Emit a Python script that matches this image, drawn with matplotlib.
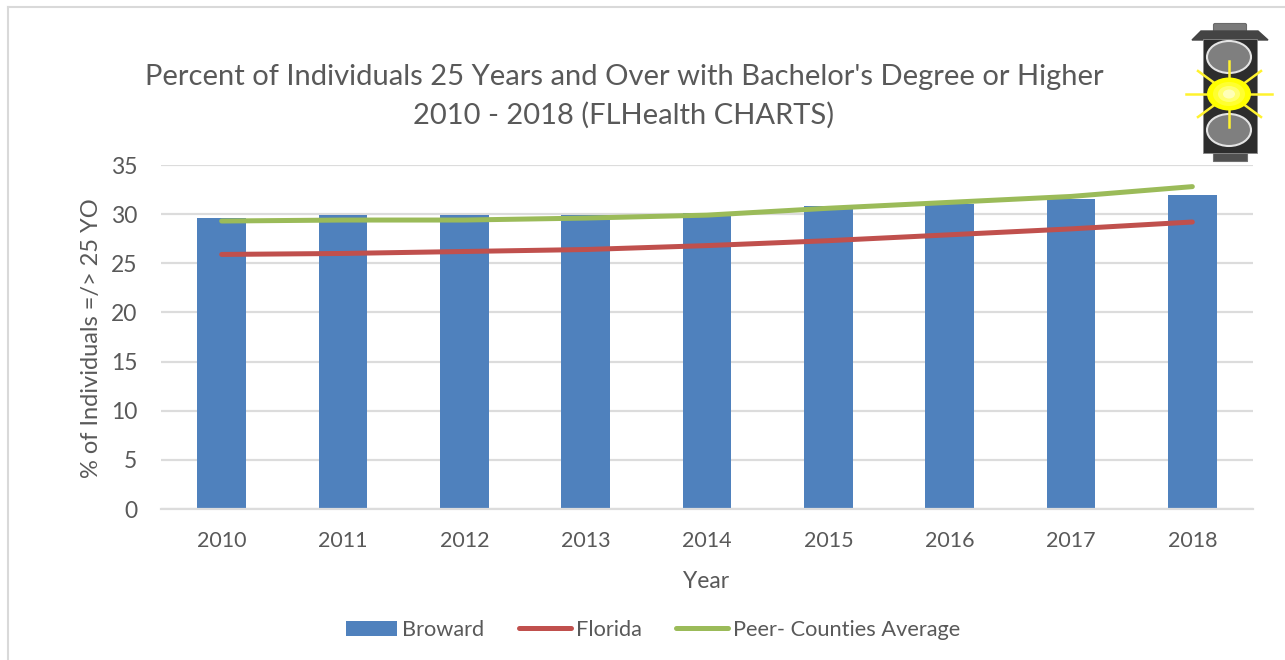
import numpy as np
import matplotlib
matplotlib.use('Agg')
import matplotlib.pyplot as plt
from matplotlib.patches import Ellipse, Polygon, Rectangle, FancyBboxPatch

plt.rcParams['font.family'] = ['Lato', 'DejaVu Sans']

years = ['2010', '2011', '2012', '2013', '2014', '2015', '2016', '2017', '2018']
broward = [29.6, 29.9, 29.9, 29.9, 30.1, 30.8, 31.0, 31.5, 31.9]
florida = [25.9, 26.0, 26.2, 26.4, 26.8, 27.3, 27.9, 28.5, 29.2]
peer = [29.3, 29.4, 29.4, 29.6, 29.9, 30.6, 31.2, 31.8, 32.8]
y_ticks = [0, 5, 10, 15, 20, 25, 30, 35]

text_col = '#595959'
blue = '#4F81BD'
red = '#C0504D'
green = '#9BBB59'

fig = plt.figure(figsize=(12.85, 6.6), dpi=100)
ax = fig.add_axes([161 / 1285, 151 / 660, 1092 / 1285, 344 / 660])

x = np.arange(len(years))
bars = ax.bar(x, broward, width=0.4, color=blue, label='Broward', zorder=2)
line_fl, = ax.plot(x, florida, color=red, lw=3.6, solid_capstyle='round', label='Florida', zorder=3)
line_peer, = ax.plot(x, peer, color=green, lw=3.6, solid_capstyle='round', label='Peer- Counties Average', zorder=4)

ax.set_xlim(-0.5, 8.5)
ax.set_ylim(0, 35)
ax.set_xticks(x)
ax.set_xticklabels(years)
ax.set_yticks(y_ticks)
ax.tick_params(axis='both', length=0, labelcolor=text_col)
ax.tick_params(axis='x', labelsize=15.5, pad=16)
ax.tick_params(axis='y', labelsize=16.5, pad=17)
ax.grid(axis='y', color='#DCDCDC', lw=1.6, zorder=0)
ax.set_axisbelow(True)
for side in ['top', 'left', 'right']:
    ax.spines[side].set_visible(False)
ax.spines['bottom'].set_color('#DCDCDC')
ax.spines['bottom'].set_linewidth(1.6)

fig.text(706 / 1285, 1 - 582 / 660, 'Year', color=text_col, fontsize=16.5, ha='center', va='center')
fig.text(92 / 1285, 1 - 338 / 660, '% of Individuals =/> 25 YO', color=text_col, fontsize=17,
         rotation=90, ha='center', va='center')
fig.text(624 / 1285, 1 - 77 / 660, "Percent of Individuals 25 Years and Over with Bachelor's Degree or Higher",
         color=text_col, fontsize=21, ha='center', va='center')
fig.text(624 / 1285, 1 - 115 / 660, '2010 - 2018 (FLHealth CHARTS)',
         color=text_col, fontsize=21, ha='center', va='center')

ax.legend([bars, line_fl, line_peer], ['Broward', 'Florida', 'Peer- Counties Average'],
          loc='center', bbox_to_anchor=(653 / 1285, 1 - 630 / 660), bbox_transform=fig.transFigure,
          ncol=3, frameon=False, fontsize=15.7, labelcolor=text_col, handlelength=2.35,
          handletextpad=0.23, columnspacing=1.6)

# overlay in pixel coordinates for the frame and the traffic light
ov = fig.add_axes([0, 0, 1, 1], zorder=10)
ov.set_xlim(0, 1285)
ov.set_ylim(660, 0)
ov.axis('off')
ov.plot([8, 8], [7, 660], color='#D9D9D9', lw=1.5)
ov.plot([8, 1285], [7, 7], color='#D9D9D9', lw=1.5)

ov.add_patch(FancyBboxPatch((1215, 25), 30, 7, boxstyle='round,pad=1.5', fc='#7a7a7a', ec='#6a6a6a', lw=0.8))
ov.add_patch(Polygon([[1192, 40], [1201, 31], [1258, 31], [1268, 40]], fc='#444444', ec='#444444'))
ov.add_patch(Rectangle((1213, 153), 34, 8, fc='#505050', ec='#707070', lw=0.8))
ov.add_patch(Rectangle((1203, 39), 54, 114, fc='#2d2d2d', ec='#8a8a8a', lw=0.6))
for cy in [57, 130]:
    ov.add_patch(Ellipse((1229, cy), 44, 32, fc='#7f7f7f', ec='#e4e4e4', lw=1.5))

# rays of the lit lamp
ray_col = '#FFF22E'
for x0, y0, x1, y1 in [(1186, 94, 1272, 94), (1229, 61, 1229, 127), (1198, 71, 1261, 117), (1198, 117, 1261, 71)]:
    ov.plot([x0, x1], [y0, y1], color=ray_col, lw=1.8, zorder=3)
for w, h, c in [(44, 33, '#FFFF00'), (32, 24, '#FFFF30'), (22, 16, '#FFFF70'), (12, 9, '#FFFFB8')]:
    ov.add_patch(Ellipse((1229, 94), w, h, fc=c, ec='none', zorder=4))

fig.savefig('out.png', dpi=100)
